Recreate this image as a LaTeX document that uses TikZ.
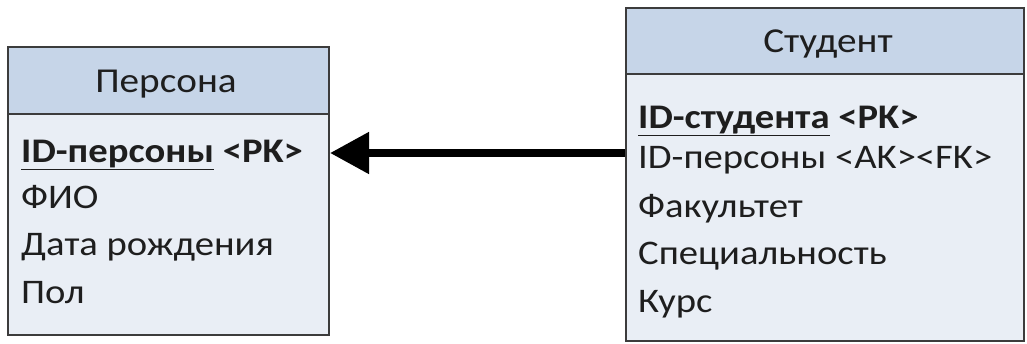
\documentclass[tikz,border=0pt]{standalone}
\usepackage{fontspec}
\setmainfont{Carlito}[FakeStretch=1.12]
\usetikzlibrary{arrows.meta}
\definecolor{hdr}{HTML}{C6D5E8}
\definecolor{bdy}{HTML}{E9EEF5}
\definecolor{edge}{HTML}{3C3C3C}
\definecolor{txt}{HTML}{1E1E1E}
\tikzset{
  box/.style={draw=edge, line width=2pt, fill=bdy, rectangle, inner sep=0pt, anchor=north west},
  hdrbox/.style={draw=edge, line width=2pt, fill=hdr, rectangle, inner sep=0pt, anchor=north west},
  title/.style={font=\fontsize{35}{40}\selectfont, text=txt, anchor=base},
  row/.style={font=\fontsize{34.5}{40}\selectfont, text=txt, anchor=base west, inner sep=0pt},
  rel/.style={line width=8pt, black, -{Triangle[length=39pt,width=40pt]}}
}
\newcommand{\pkul}[1]{\underline{\textbf{#1}}}
\begin{document}
\begin{tikzpicture}[x=1pt,y=1pt]
\useasboundingbox (0,0) rectangle (1027,-343);
% Persona
\node[box, minimum width=321pt, minimum height=288pt] (pbody) at (7,-46) {};
\node[hdrbox, minimum width=321pt, minimum height=67pt] (phead) at (7,-46) {};
\node[title] (ptitle) at (166,-92) {Персона};
\node[row] (p1) at (21,-162) {\pkul{ID-персоны} \textbf{<PK>}};
\node[row] (p2) at (21,-208) {ФИО};
\node[row] (p3) at (21,-255) {Дата рождения};
\node[row] (p4) at (21,-303) {Пол};
% Student
\node[box, minimum width=398pt, minimum height=333pt] (sbody) at (625,-7) {};
\node[hdrbox, minimum width=398pt, minimum height=66pt] (shead) at (625,-7) {};
\node[title] (stitle) at (828,-52) {Студент};
\node[row] (s1) at (638,-128) {\pkul{ID-студента} \textbf{<PK>}};
\node[row] (s2) at (638,-168) {ID-персоны <AK><FK>};
\node[row] (s3) at (638,-217) {Факультет};
\node[row] (s4) at (638,-264) {Специальность};
\node[row] (s5) at (638,-312) {Курс};
% relation
\coordinate (rs) at (625,-153);
\draw[rel] (rs) -- (pbody.east |- rs);
\end{tikzpicture}
\end{document}
